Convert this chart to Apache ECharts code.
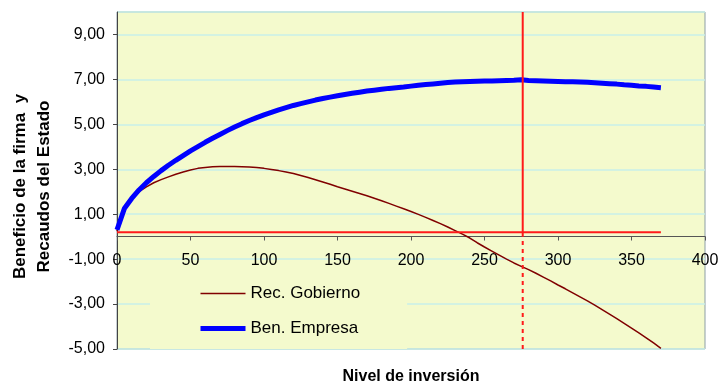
<!DOCTYPE html>
<html>
<head>
<meta charset="utf-8">
<script src="https://cdn.jsdelivr.net/npm/echarts@6/dist/echarts.min.js"></script>
<style>
  html, body { margin: 0; padding: 0; background: #fff; }
  #grafico { width: 720px; height: 384px; }
</style>
</head>
<body>
<div id="grafico"></div>
<script>
// nivel de inversion (eje x)
const nivelInversion = [0, 5, 10, 15, 20, 25, 30, 35, 40, 45, 50, 55, 60, 65, 70, 75, 80, 85, 90, 95,
  100, 105, 110, 115, 120, 125, 130, 135, 140, 145, 150, 155, 160, 165, 170, 175, 180, 185, 190, 195,
  200, 205, 210, 215, 220, 225, 230, 235, 240, 245, 250, 255, 260, 265, 270, 275, 280, 285, 290, 295,
  300, 305, 310, 315, 320, 325, 330, 335, 340, 345, 350, 355, 360, 365, 370];

const benEmpresa = [0.30, 1.25, 1.70, 2.08, 2.40, 2.68, 2.94, 3.18, 3.40, 3.61, 3.82, 4.01, 4.20, 4.38, 4.55, 4.72, 4.88, 5.03, 5.17, 5.30,
  5.42, 5.53, 5.64, 5.74, 5.84, 5.92, 6.00, 6.08, 6.15, 6.21, 6.27, 6.33, 6.38, 6.43, 6.48, 6.52, 6.56, 6.60, 6.63, 6.66,
  6.70, 6.74, 6.77, 6.80, 6.83, 6.86, 6.88, 6.90, 6.91, 6.92, 6.93, 6.93, 6.94, 6.95, 6.96, 6.98, 6.95, 6.94, 6.93, 6.92,
  6.91, 6.90, 6.89, 6.88, 6.87, 6.85, 6.83, 6.81, 6.79, 6.76, 6.74, 6.71, 6.69, 6.66, 6.63];

const recGobierno = [0.24, 1.20, 1.65, 2.00, 2.22, 2.40, 2.54, 2.66, 2.78, 2.88, 2.97, 3.04, 3.08, 3.11, 3.12, 3.12, 3.12, 3.11, 3.10, 3.08,
  3.04, 2.99, 2.94, 2.88, 2.81, 2.72, 2.63, 2.53, 2.43, 2.33, 2.22, 2.12, 2.02, 1.92, 1.82, 1.71, 1.60, 1.48, 1.36, 1.24,
  1.12, 0.99, 0.86, 0.72, 0.58, 0.43, 0.27, 0.11, -0.06, -0.27, -0.46, -0.64, -0.82, -1.00, -1.17, -1.32, -1.47, -1.63, -1.80, -1.97,
  -2.15, -2.32, -2.50, -2.68, -2.86, -3.05, -3.25, -3.45, -3.65, -3.86, -4.07, -4.28, -4.50, -4.73, -4.97];

// lineas rojas de referencia
const nivelRef = 0.2;
const inversionRef = [0, 370];
const inversionOptima = 276;

const nombres = ['Rec. Gobierno', 'Ben. Empresa'];
const fuente = '"Liberation Sans", Arial, sans-serif';
const fondo = '#f4facd';

const pares = (ys) => nivelInversion.map((x, i) => [x, ys[i]]);

let myChart = echarts.init(document.getElementById('grafico'));
const option = {
  animation: false,
  textStyle: { fontFamily: fuente },
  grid: {
    left: 117, right: 15, top: 12, bottom: 35,
    outerBoundsMode: 'none',
    show: true, backgroundColor: fondo, borderColor: '#8d9fa6', borderWidth: 1
  },
  legend: {
    orient: 'vertical',
    left: 150, top: 270,
    padding: [15, 47, 12, 48],
    itemWidth: 45, itemHeight: 14, itemGap: 18,
    backgroundColor: fondo,
    itemStyle: { opacity: 0 },
    data: [
      { name: nombres[0], lineStyle: { color: '#800000', width: 1.5 } },
      { name: nombres[1], lineStyle: { color: '#0000ff', width: 5 } }
    ],
    textStyle: { fontFamily: fuente, fontSize: 17, color: '#000' }
  },
  xAxis: {
    type: 'value', min: 0, max: 400, interval: 50,
    // el eje corta en y = 0 (el alto de una unidad es 22,5 px)
    position: 'bottom', offset: -112.5,
    axisLine: { onZero: false, lineStyle: { color: '#555', width: 1 } },
    axisTick: { show: true, inside: false, length: 4, lineStyle: { color: '#555' } },
    axisLabel: { color: '#000', fontSize: 16, margin: 16, fontFamily: fuente },
    splitLine: { show: false }
  },
  yAxis: {
    type: 'value', min: -5, max: 10, interval: 2,
    name: 'Beneficio de la firma  y\nRecaudos del Estado',
    nameLocation: 'middle', nameRotate: 90, nameGap: 61,
    nameTextStyle: {
      fontFamily: fuente, fontSize: 17, fontWeight: 'bold', color: '#000', lineHeight: 24,
      padding: [0, 12, 0, 0]
    },
    axisLine: { show: true, lineStyle: { color: '#444', width: 1 } },
    axisTick: { show: true, inside: false, length: 4, lineStyle: { color: '#444' } },
    axisLabel: {
      color: '#000', fontSize: 16, margin: 12, fontFamily: fuente, showMaxLabel: false,
      formatter: (v) => v.toFixed(2).replace('.', ',')
    },
    splitLine: { show: true, lineStyle: { color: '#c9efe9', width: 1.5 } }
  },
  graphic: [{
    type: 'text', x: 411, y: 377,
    style: {
      text: 'Nivel de inversión', textAlign: 'center', textVerticalAlign: 'middle',
      font: 'bold 16px ' + fuente, fill: '#000'
    }
  }],
  series: [
    {
      name: nombres[0], type: 'line', data: pares(recGobierno),
      symbol: 'none', color: '#800000',
      lineStyle: { color: '#800000', width: 1.5 }, z: 3
    },
    {
      name: nombres[1], type: 'line', data: pares(benEmpresa),
      symbol: 'none', color: '#0000ff',
      lineStyle: { color: '#0000ff', width: 5 }, z: 4
    },
    {
      name: 'ref-h', type: 'line', symbol: 'none', silent: true,
      data: inversionRef.map((x) => [x, nivelRef]),
      lineStyle: { color: '#ff1a1a', width: 2 }, z: 5
    },
    {
      name: 'ref-v', type: 'line', symbol: 'none', silent: true,
      data: [[inversionOptima, 0], [inversionOptima, 10]],
      lineStyle: { color: '#ff1a1a', width: 2 }, z: 5
    },
    {
      name: 'ref-v2', type: 'line', symbol: 'none', silent: true,
      data: [[inversionOptima, -5], [inversionOptima, 0]],
      lineStyle: { color: '#ff1a1a', width: 2, type: [4, 4] }, z: 5
    }
  ]
};
myChart.setOption(option);
</script>
</body>
</html>
